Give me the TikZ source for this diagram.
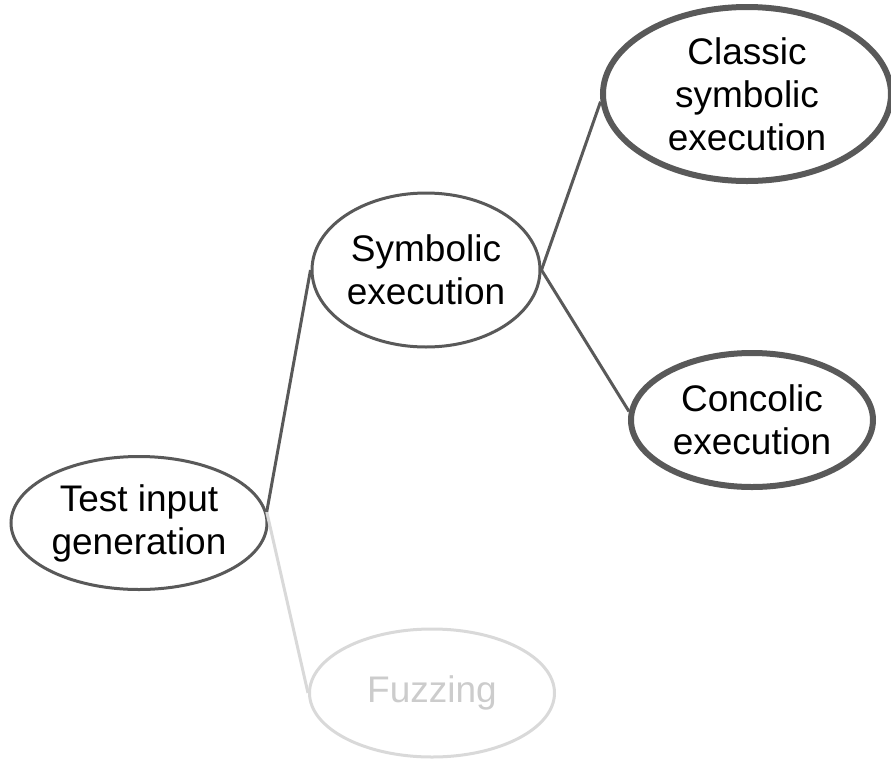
\documentclass[tikz,border=0pt]{standalone}
\usepackage{fontspec}
\setmainfont{Liberation Sans}
\usepackage{xcolor}
\usetikzlibrary{positioning,shapes.geometric}

\definecolor{darkline}{HTML}{595959}
\definecolor{fadedline}{HTML}{D9D9D9}
\definecolor{fadedtext}{HTML}{CCCCCC}

\tikzset{
	bubble/.style={ellipse,draw=darkline,line width=1.5pt,fill=white,inner sep=0pt,align=center,
		font=\fontsize{18.5}{21.5}\selectfont},
	leafbubble/.style={bubble,line width=3pt},
	fadedbubble/.style={bubble,draw=fadedline,text=fadedtext},
	branch/.style={draw=darkline,line width=1.5pt},
	fadedbranch/.style={draw=fadedline,line width=1.5pt}
}

\begin{document}
\begin{tikzpicture}[x=0.5pt,y=-0.5pt]
	\useasboundingbox (0,0) rectangle (891,762);
	% Root
	\node[bubble,minimum width=128pt,minimum height=66.5pt] (testgen) at (139,523) {Test input\\generation};
	% Second level
	\node[bubble,minimum width=114pt,minimum height=77pt] (symbolic) at (426,270) {Symbolic\\execution};
	\node[fadedbubble,minimum width=122.5pt,minimum height=64pt] (fuzzing) at (432,693) {Fuzzing};
	% Leaves
	\node[leafbubble,minimum width=144pt,minimum height=87pt] (classic) at (747,94) {Classic\\symbolic\\execution};
	\node[leafbubble,minimum width=121pt,minimum height=67pt] (concolic) at (752,420) {Concolic\\execution};
	% Connectors
	\draw[fadedbranch] (testgen.5) -- (fuzzing.west);
	\draw[branch] (testgen.5) -- (symbolic.west);
	\draw[branch] (symbolic.east) -- (classic.183);
	\draw[branch] (symbolic.east) -- (concolic.176);
\end{tikzpicture}
\end{document}
